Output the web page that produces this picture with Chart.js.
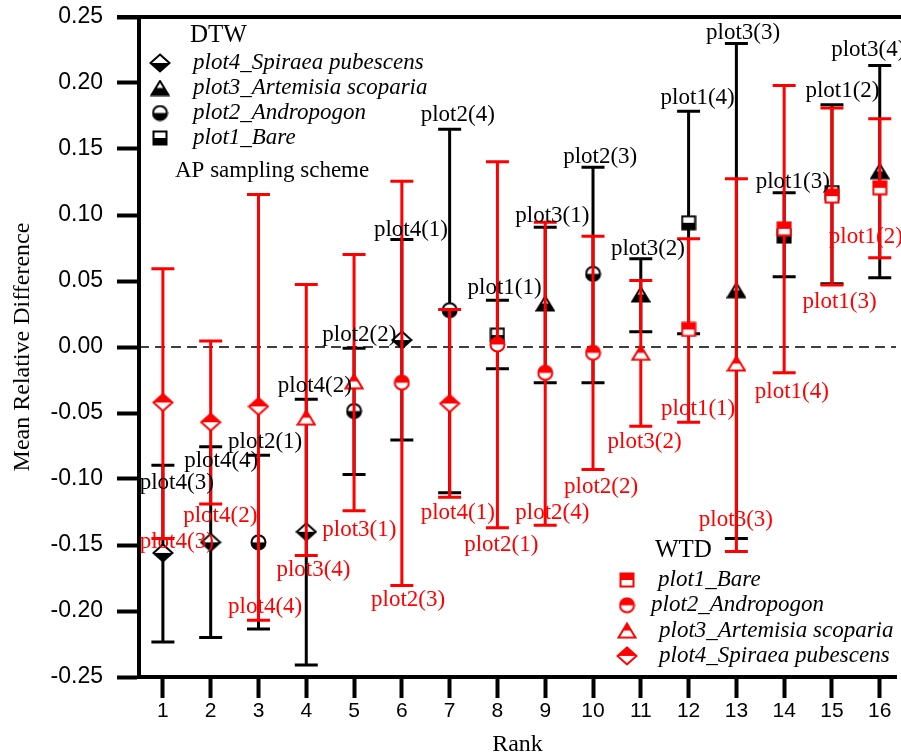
<!DOCTYPE html>
<html>
<head>
<meta charset="utf-8">
<script src="https://cdn.jsdelivr.net/npm/chart.js@4.4.0/dist/chart.umd.min.js"></script>
<style>
  html, body { margin: 0; padding: 0; background: #fff; overflow: hidden; }
  #wrap { width: 901px; height: 755px; }
</style>
</head>
<body>
<div id="wrap"><canvas id="mrdChart" width="901" height="755"></canvas></div>
<script>

// ranks on the x axis
const ranks = [1, 2, 3, 4, 5, 6, 7, 8, 9, 10, 11, 12, 13, 14, 15, 16];

// DTW (black)
const dtwMean = [-0.156, -0.148, -0.148, -0.140, -0.0485, 0.0053, 0.0279, 0.009, 0.033, 0.0554, 0.0398, 0.0941, 0.043, 0.084, 0.117, 0.1332];
const dtwLow  = [-0.2235, -0.220, -0.2136, -0.241, -0.0965, -0.0705, -0.1105, -0.0165, -0.0271, -0.0271, 0.0115, 0.0100, -0.145, 0.0532, 0.048, 0.0524];
const dtwHigh = [-0.0896, -0.0755, -0.082, -0.0396, -0.001, 0.0815, 0.165, 0.0355, 0.0908, 0.1362, 0.0668, 0.1786, 0.2299, 0.1168, 0.1835, 0.2133];
const dtwPlots = ["plot4(3)", "plot4(4)", "plot2(1)", "plot4(2)", "plot2(2)", "plot4(1)", "plot2(4)", "plot1(1)",
                  "plot3(1)", "plot2(3)", "plot3(2)", "plot1(4)", "plot3(3)", "plot1(3)", "plot1(2)", "plot3(4)"];

// WTD (red)
const wtdMean = [-0.042, -0.057, -0.045, -0.0535, -0.026, -0.027, -0.0428, 0.0019, -0.0196, -0.0044, -0.0044, 0.0133, -0.0125, 0.0895, 0.1143, 0.1206];
const wtdLow  = [-0.145, -0.119, -0.207, -0.158, -0.124, -0.1806, -0.1138, -0.137, -0.135, -0.0928, -0.060, -0.057, -0.155, -0.0196, 0.047, 0.0676];
const wtdHigh = [0.0593, 0.0045, 0.1155, 0.0474, 0.070, 0.1256, 0.0284, 0.1403, 0.0945, 0.0839, 0.0504, 0.0820, 0.1274, 0.1981, 0.181, 0.1729];
const wtdPlots = ["plot4(3)", "plot4(2)", "plot4(4)", "plot3(4)", "plot3(1)", "plot2(3)", "plot4(1)", "plot2(1)",
                  "plot2(4)", "plot2(2)", "plot3(2)", "plot1(1)", "plot3(3)", "plot1(4)", "plot1(3)", "plot1(2)"];

// where the plot(n) labels sit, in axis units
const dtwLabelX = [1.29, 2.22, 3.14, 4.18, 5.11, 6.19, 7.17, 8.15, 9.15, 10.15, 11.15, 12.19, 13.14, 14.18, 15.22, 15.76];
const dtwLabelY = [-0.1027, -0.0867, -0.0716, -0.0292, 0.0095, 0.089, 0.176, 0.045, 0.0989, 0.144, 0.0739, 0.189, 0.238, 0.125, 0.1936, 0.225];
const wtdLabelX = [1.29, 2.20, 3.14, 4.15, 5.11, 6.13, 7.17, 8.08, 9.15, 10.17, 11.08, 12.20, 12.99, 14.16, 15.16, 15.71];
const wtdLabelY = [-0.148, -0.1277, -0.1966, -0.1686, -0.1383, -0.192, -0.1254, -0.1496, -0.1254, -0.1057, -0.0716, -0.0466, -0.1314, -0.0337, 0.0345, 0.083];

const yTicks = [-0.25, -0.20, -0.15, -0.10, -0.05, 0.00, 0.05, 0.10, 0.15, 0.20, 0.25];

const legendNames = ["plot1_Bare", "plot2_Andropogon", "plot3_Artemisia scoparia", "plot4_Spiraea pubescens"];

const RED = "#ff0000";
const BLACK = "#000000";
const SERIF = "'Liberation Serif', 'Times New Roman', serif";
const SANS = "'Liberation Sans', Arial, sans-serif";
const shapes = ["square", "circle", "triangle", "diamond"];

function shapeOf(label){
  return shapes[parseInt(label.charAt(4), 10) - 1];
}

function makeMarker(shape, color, fillTop){
  let w = 14, h = 14;
  if(shape === "diamond"){ w = 19; h = 17; }
  if(shape === "triangle"){ w = 17; h = 14; }
  if(shape === "square"){ w = 13; h = 13; }
  const c = document.createElement("canvas");
  c.width = w + 3;
  c.height = h + 3;
  const g = c.getContext("2d");
  const cx = c.width / 2, cy = c.height / 2;
  g.beginPath();
  if(shape === "circle"){
    g.arc(cx, cy, w / 2, 0, Math.PI * 2);
  } else if(shape === "square"){
    g.rect(cx - w / 2, cy - h / 2, w, h);
  } else if(shape === "triangle"){
    g.moveTo(cx, cy - h / 2);
    g.lineTo(cx + w / 2, cy + h / 2);
    g.lineTo(cx - w / 2, cy + h / 2);
    g.closePath();
  } else {
    g.moveTo(cx, cy - h / 2);
    g.lineTo(cx + w / 2, cy);
    g.lineTo(cx, cy + h / 2);
    g.lineTo(cx - w / 2, cy);
    g.closePath();
  }
  g.fillStyle = "#fff";
  g.fill();
  g.save();
  g.clip();
  g.fillStyle = color;
  if(fillTop){
    g.fillRect(0, 0, c.width, cy);
  } else {
    g.fillRect(0, cy, c.width, c.height);
  }
  g.restore();
  g.lineWidth = 2;
  g.strokeStyle = color;
  g.stroke();
  return c;
}

const blackMarkers = {};
const redMarkers = {};
shapes.forEach(s => {
  blackMarkers[s] = makeMarker(s, BLACK, false);
  redMarkers[s] = makeMarker(s, RED, true);
});

const errorBarPlugin = {
  id: "errorBars",
  beforeDatasetsDraw(chart){
    const ctx = chart.ctx;
    const area = chart.chartArea;
    const y0 = chart.scales.y.getPixelForValue(0);
    ctx.save();
    ctx.strokeStyle = BLACK;
    ctx.lineWidth = 1.6;
    ctx.setLineDash([10, 6]);
    ctx.beginPath();
    ctx.moveTo(area.left, y0);
    ctx.lineTo(area.right, y0);
    ctx.stroke();
    ctx.restore();
  },
  beforeDatasetDraw(chart, args){
    const ds = chart.data.datasets[args.index];
    const ctx = chart.ctx;
    const xs = chart.scales.x, ys = chart.scales.y;
    ctx.save();
    ctx.strokeStyle = ds.borderColor;
    ctx.lineWidth = 3;
    ds.errLow.forEach((lo, i) => {
      const px = xs.getPixelForValue(ranks[i]);
      const pLo = ys.getPixelForValue(lo);
      const pHi = ys.getPixelForValue(ds.errHigh[i]);
      ctx.beginPath();
      ctx.moveTo(px, pHi);
      ctx.lineTo(px, pLo);
      ctx.moveTo(px - 11.5, pHi);
      ctx.lineTo(px + 11.5, pHi);
      ctx.moveTo(px - 11.5, pLo);
      ctx.lineTo(px + 11.5, pLo);
      ctx.stroke();
    });
    ctx.restore();
  },
  afterDatasetsDraw(chart){
    const ctx = chart.ctx;
    const xs = chart.scales.x, ys = chart.scales.y;
    ctx.save();
    ctx.font = "23px " + SERIF;
    ctx.textAlign = "center";
    ctx.textBaseline = "middle";
    ctx.fillStyle = BLACK;
    dtwPlots.forEach((t, i) => {
      ctx.fillText(t, xs.getPixelForValue(dtwLabelX[i]), ys.getPixelForValue(dtwLabelY[i]));
    });
    ctx.fillStyle = RED;
    wtdPlots.forEach((t, i) => {
      ctx.fillText(t, xs.getPixelForValue(wtdLabelX[i]), ys.getPixelForValue(wtdLabelY[i]));
    });
    ctx.restore();
  },
  afterDraw(chart){
    const ctx = chart.ctx;
    const area = chart.chartArea;
    ctx.save();
    // top frame line
    ctx.strokeStyle = BLACK;
    ctx.lineWidth = 4;
    ctx.beginPath();
    ctx.moveTo(area.left - 22, area.top);
    ctx.lineTo(chart.width, area.top);
    ctx.stroke();

    ctx.textBaseline = "middle";
    ctx.textAlign = "left";
    ctx.fillStyle = BLACK;

    // DTW legend
    ctx.font = "25px " + SERIF;
    ctx.fillText("DTW", area.left + 51, area.top + 18);
    ctx.font = "italic 23px " + SERIF;
    const dtwOrder = [3, 2, 1, 0];
    dtwOrder.forEach((k, r) => {
      const yy = area.top + 46 + r * 25;
      const m = blackMarkers[shapes[k]];
      ctx.drawImage(m, area.left + 21 - m.width / 2, yy - m.height / 2);
      ctx.fillText(legendNames[k], area.left + 54, yy);
    });
    ctx.font = "23px " + SERIF;
    ctx.fillText("AP sampling scheme", area.left + 36, area.top + 154);

    // WTD legend
    ctx.font = "25px " + SERIF;
    ctx.fillText("WTD", 655, 550);
    ctx.font = "italic 23px " + SERIF;
    const wtdTextX = [658, 651, 659, 659];
    [0, 1, 2, 3].forEach((k, r) => {
      const yy = 580 + r * 25.3;
      const m = redMarkers[shapes[k]];
      ctx.drawImage(m, 627 - m.width / 2, yy - m.height / 2);
      ctx.fillText(legendNames[k], wtdTextX[r], yy);
    });
    ctx.restore();
  }
};

const ctx = document.getElementById("mrdChart").getContext("2d");

new Chart(ctx, {
  type: "scatter",
  data: {
    datasets: [
      {
        label: "WTD",
        data: ranks.map((r, i) => ({ x: r, y: wtdMean[i] })),
        errLow: wtdLow,
        errHigh: wtdHigh,
        borderColor: RED,
        backgroundColor: RED,
        pointStyle: wtdPlots.map(p => redMarkers[shapeOf(p)]),
        clip: false
      },
      {
        label: "DTW",
        data: ranks.map((r, i) => ({ x: r, y: dtwMean[i] })),
        errLow: dtwLow,
        errHigh: dtwHigh,
        borderColor: BLACK,
        backgroundColor: BLACK,
        pointStyle: dtwPlots.map(p => blackMarkers[shapeOf(p)]),
        clip: false
      }
    ]
  },
  options: {
    responsive: false,
    animation: false,
    layout: { padding: { top: 17, left: 0, right: 0, bottom: 0 } },
    plugins: {
      legend: { display: false },
      tooltip: { enabled: false }
    },
    scales: {
      x: {
        type: "linear",
        min: 0.5,
        max: 16.34,
        afterBuildTicks: s => { s.ticks = ranks.map(v => ({ value: v })); },
        afterFit: s => { s.height = 78; s.paddingLeft = 0; s.paddingRight = 0; },
        border: { display: true, width: 4, color: BLACK },
        grid: { display: true, drawOnChartArea: false, drawTicks: true, tickLength: 21, tickWidth: 4, tickColor: BLACK },
        ticks: {
          autoSkip: false,
          maxRotation: 0,
          padding: 1,
          color: BLACK,
          font: { family: SANS, size: 21 },
          callback: v => String(v)
        },
        title: {
          display: true,
          text: "Rank",
          color: BLACK,
          font: { family: SERIF, size: 24, lineHeight: 1 },
          padding: { top: 0, bottom: -2 }
        }
      },
      y: {
        type: "linear",
        min: -0.25,
        max: 0.25,
        afterBuildTicks: s => { s.ticks = yTicks.map(v => ({ value: v })); },
        afterFit: s => { s.width = 139; s.paddingTop = 0; s.paddingBottom = 0; },
        border: { display: true, width: 4, color: BLACK },
        grid: { display: true, drawOnChartArea: false, drawTicks: true, tickLength: 22, tickWidth: 4, tickColor: BLACK },
        ticks: {
          autoSkip: false,
          padding: 14,
          color: BLACK,
          font: { family: SANS, size: 23 },
          callback: v => v.toFixed(2)
        },
        title: {
          display: true,
          text: "Mean Relative Difference",
          color: BLACK,
          font: { family: SERIF, size: 24, lineHeight: 1.2 },
          padding: { top: 8, bottom: 0 }
        }
      }
    }
  },
  plugins: [errorBarPlugin]
});

</script>
</body>
</html>
